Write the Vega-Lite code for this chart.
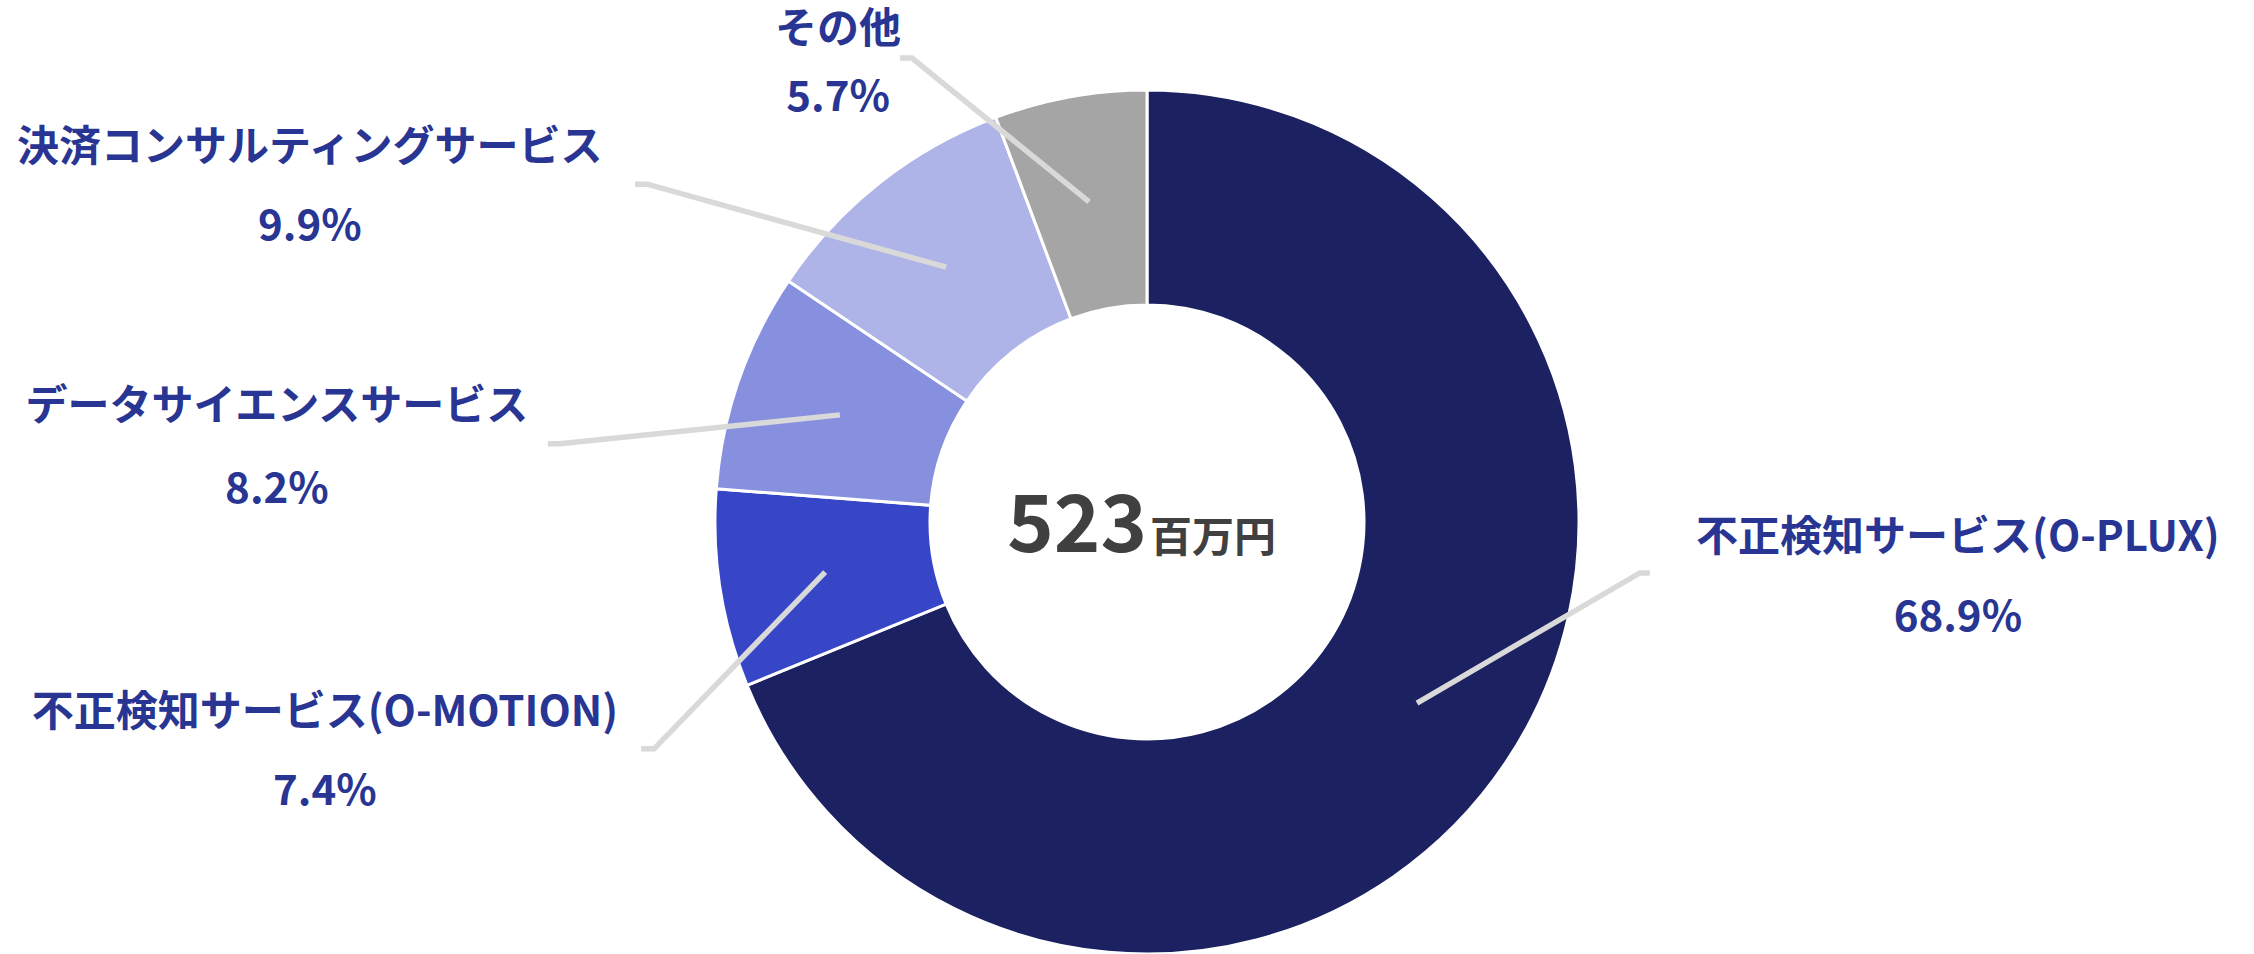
{
  "$schema": "https://vega.github.io/schema/vega-lite/v6.json",
  "width": 2214,
  "height": 864,
  "autosize": {"type": "none"},
  "padding": {"left": 40, "top": 90, "right": 0, "bottom": 0},
  "background": "white",
  "config": {"view": {"stroke": null}, "font": "Noto Sans CJK JP"},
  "datasets": {
    "slices": [
      {"category": "不正検知サービス(O-PLUX)", "value": 68.9, "ord": 1},
      {"category": "不正検知サービス(O-MOTION)", "value": 7.4, "ord": 2},
      {"category": "データサイエンスサービス", "value": 8.2, "ord": 3},
      {"category": "決済コンサルティングサービス", "value": 9.9, "ord": 4},
      {"category": "その他", "value": 5.7, "ord": 5}
    ],
    "leaders": [
      {"category": "不正検知サービス(O-PLUX)", "pt": 0, "x": 62.5, "y": -41.9},
      {"category": "不正検知サービス(O-PLUX)", "pt": 1, "x": 114.1, "y": -11.8},
      {"category": "不正検知サービス(O-PLUX)", "pt": 2, "x": 116.4, "y": -11.8},
      {"category": "不正検知サービス(O-MOTION)", "pt": 0, "x": -74.5, "y": -11.6},
      {"category": "不正検知サービス(O-MOTION)", "pt": 1, "x": -114.1, "y": -52.5},
      {"category": "不正検知サービス(O-MOTION)", "pt": 2, "x": -117.1, "y": -52.5},
      {"category": "データサイエンスサービス", "pt": 0, "x": -71.1, "y": 24.8},
      {"category": "データサイエンスサービス", "pt": 1, "x": -135.9, "y": 18.1},
      {"category": "データサイエンスサービス", "pt": 2, "x": -138.7, "y": 18.1},
      {"category": "決済コンサルティングサービス", "pt": 0, "x": -46.5, "y": 59.0},
      {"category": "決済コンサルティングサービス", "pt": 1, "x": -115.7, "y": 78.2},
      {"category": "決済コンサルティングサービス", "pt": 2, "x": -118.5, "y": 78.2},
      {"category": "その他", "pt": 0, "x": -13.4, "y": 74.1},
      {"category": "その他", "pt": 1, "x": -54.4, "y": 107.4},
      {"category": "その他", "pt": 2, "x": -57.2, "y": 107.4}
    ],
    "labels": [
      {"category": "不正検知サービス(O-PLUX)", "pct": "68.9%", "x": 187.7, "yName": -3.7, "yPct": -22.2},
      {"category": "不正検知サービス(O-MOTION)", "pct": "7.4%", "x": -190.3, "yName": -44.2, "yPct": -62.5},
      {"category": "データサイエンスサービス", "pct": "8.2%", "x": -201.4, "yName": 26.6, "yPct": 7.4},
      {"category": "決済コンサルティングサービス", "pct": "9.9%", "x": -193.8, "yName": 86.6, "yPct": 68.3},
      {"category": "その他", "pct": "5.7%", "x": -71.5, "yName": 114.0, "yPct": 98.1}
    ],
    "center": [
      {"num": "523", "unit": "百万円"}
    ]
  },
  "layer": [
    {
      "data": {"name": "slices"},
      "mark": {"type": "arc", "innerRadius": 217, "outerRadius": 432, "stroke": "white", "strokeWidth": 3},
      "encoding": {
        "theta": {"field": "value", "type": "quantitative", "stack": true},
        "order": {"field": "ord", "type": "quantitative"},
        "color": {
          "field": "category", "type": "nominal", "legend": null,
          "scale": {
            "domain": ["不正検知サービス(O-PLUX)", "不正検知サービス(O-MOTION)", "データサイエンスサービス", "決済コンサルティングサービス", "その他"],
            "range": ["#1b2161", "#3745c7", "#8790de", "#aeb3e8", "#a5a5a5"]
          }
        }
      }
    },
    {
      "data": {"name": "leaders"},
      "mark": {"type": "line", "color": "#d9d9d9", "strokeWidth": 5.5, "strokeJoin": "miter"},
      "encoding": {
        "x": {"field": "x", "type": "quantitative", "scale": {"domain": [-256.25, 256.25], "nice": false, "zero": false}, "axis": null},
        "y": {"field": "y", "type": "quantitative", "scale": {"domain": [-100, 100], "nice": false, "zero": false}, "axis": null},
        "detail": {"field": "category", "type": "nominal"},
        "order": {"field": "pt", "type": "quantitative"}
      }
    },
    {
      "data": {"name": "labels"},
      "mark": {"type": "text", "font": "Noto Sans CJK JP", "fontWeight": "bold", "fontSize": 42, "color": "#283593", "align": "center", "baseline": "middle"},
      "encoding": {
        "x": {"field": "x", "type": "quantitative"},
        "y": {"field": "yName", "type": "quantitative"},
        "text": {"field": "category", "type": "nominal"}
      }
    },
    {
      "data": {"name": "labels"},
      "mark": {"type": "text", "font": "Noto Sans CJK JP", "fontWeight": "bold", "fontSize": 42, "color": "#283593", "align": "center", "baseline": "middle"},
      "encoding": {
        "x": {"field": "x", "type": "quantitative"},
        "y": {"field": "yPct", "type": "quantitative"},
        "text": {"field": "pct", "type": "nominal"}
      }
    },
    {
      "data": {"name": "center"},
      "mark": {"type": "text", "font": "Noto Sans CJK JP", "fontWeight": "bold", "fontSize": 79, "color": "#404040", "align": "right", "baseline": "alphabetic"},
      "encoding": {
        "x": {"datum": 0, "type": "quantitative"},
        "y": {"datum": -6.9, "type": "quantitative"},
        "text": {"field": "num", "type": "nominal"}
      }
    },
    {
      "data": {"name": "center"},
      "mark": {"type": "text", "font": "Noto Sans CJK JP", "fontWeight": "bold", "fontSize": 42, "color": "#404040", "align": "left", "baseline": "alphabetic", "dx": 3},
      "encoding": {
        "x": {"datum": 0, "type": "quantitative"},
        "y": {"datum": -6.9, "type": "quantitative"},
        "text": {"field": "unit", "type": "nominal"}
      }
    }
  ]
}
